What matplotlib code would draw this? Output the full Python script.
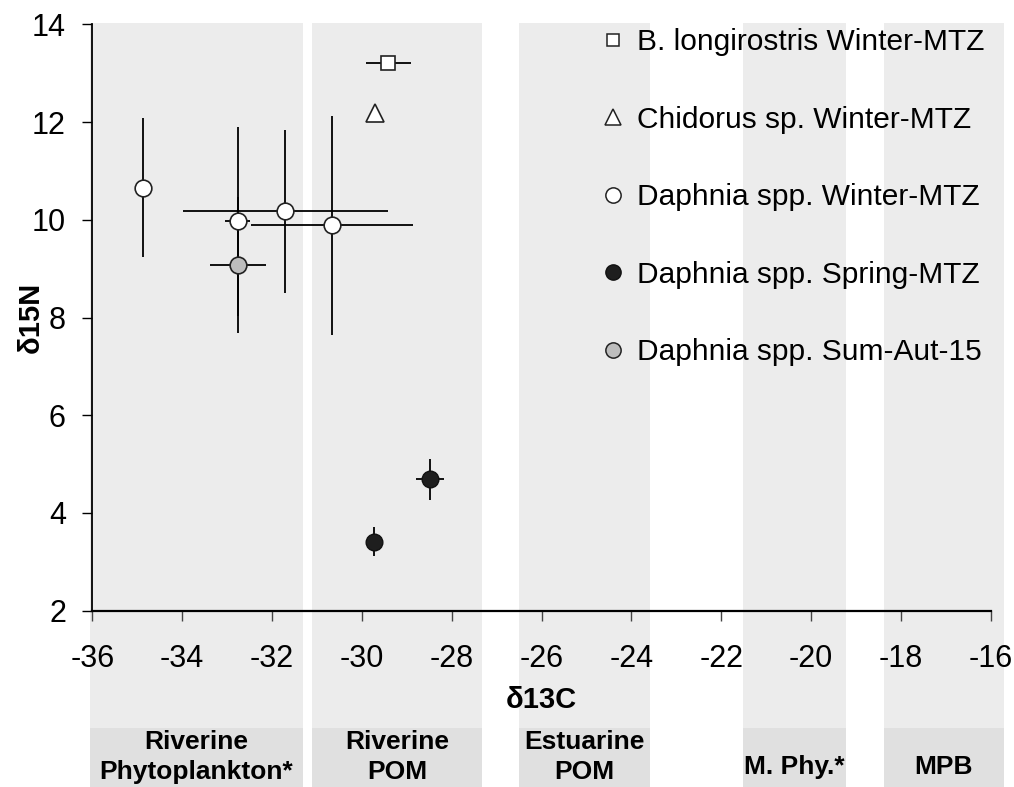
import matplotlib
matplotlib.use("Agg")
import matplotlib.pyplot as plt
from matplotlib.lines import Line2D
from matplotlib.patches import Rectangle
from matplotlib.transforms import blended_transform_factory

plt.rcParams['font.family'] = ['Liberation Sans', 'DejaVu Sans']

# ---- data ----
winter_x = [-34.88, -32.76, -31.70, -30.67]
winter_y = [10.66, 9.97, 10.17, 9.89]
winter_xerr = [0.0, 0.28, 2.29, 1.80]
winter_yerr = [1.43, 1.93, 1.67, 2.24]

sumaut_x = [-32.76]
sumaut_y = [9.07]
sumaut_xerr = [0.62]
sumaut_yerr = [1.39]

spring_x = [-29.72, -28.49]
spring_y = [3.41, 4.69]
spring_xerr = [0.10, 0.31]
spring_yerr = [0.30, 0.42]

bos_x = [-29.41]
bos_y = [13.21]
bos_xerr = [0.50]
bos_yerr = [0.0]

chid_x = [-29.71]
chid_y = [12.18]
chid_xerr = [0.0]
chid_yerr = [0.08]

series_labels = ["B. longirostris Winter-MTZ", "Chidorus sp. Winter-MTZ",
                 "Daphnia spp. Winter-MTZ", "Daphnia spp. Spring-MTZ",
                 "Daphnia spp. Sum-Aut-15"]

band_names = ["Riverine\nPhytoplankton*", "Riverine\nPOM", "Estuarine\nPOM", "M. Phy.*", "MPB"]
band_lo = [-36.05, -31.11, -26.50, -21.52, -18.39]
band_hi = [-31.32, -27.33, -23.59, -19.23, -15.72]

xticks = [-36, -34, -32, -30, -28, -26, -24, -22, -20, -18, -16]
yticks = [2, 4, 6, 8, 10, 12, 14]

# ---- figure ----
fig = plt.figure(figsize=(10.14, 7.87), dpi=100)
ax = fig.add_axes([0.0910, 0.2240, 0.8863, 0.7451])
ax.patch.set_visible(False)

ax.set_xlim(-36, -16)
ax.set_ylim(2, 14)

# bands spanning from top of plot to bottom of figure
trans = blended_transform_factory(ax.transData, fig.transFigure)
band_top = 1 - 23 / 787
box_top = 1 - 727.7 / 787
for lo, hi, name in zip(band_lo, band_hi, band_names):
    ax.add_patch(Rectangle((lo, 0), hi - lo, band_top, transform=trans,
                           facecolor='#ececec', edgecolor='none',
                           clip_on=False, zorder=0))
    ax.add_patch(Rectangle((lo, 0), hi - lo, box_top, transform=trans,
                           facecolor='#e0e0e0', edgecolor='none',
                           clip_on=False, zorder=0.1))
    ylab = 1 - 757 / 787 if "\n" in name else 1 - 767 / 787
    ax.text((lo + hi) / 2, ylab, name, transform=trans, ha='center', va='center',
            fontsize=19, fontweight='bold', linespacing=1.3, zorder=1)

ekw = dict(ecolor='black', elinewidth=1.3, capsize=0, linestyle='none', zorder=3)
ax.errorbar(winter_x, winter_y, xerr=winter_xerr, yerr=winter_yerr, fmt='o',
            ms=12, mfc='white', mec='#222222', mew=1.2, **ekw)
ax.errorbar(sumaut_x, sumaut_y, xerr=sumaut_xerr, yerr=sumaut_yerr, fmt='o',
            ms=12, mfc='#bdbdbd', mec='#222222', mew=1.2, **ekw)
ax.errorbar(spring_x, spring_y, xerr=spring_xerr, yerr=spring_yerr, fmt='o',
            ms=12, mfc='#1e1e1e', mec='#111111', mew=1.0, **ekw)
ax.errorbar(bos_x, bos_y, xerr=bos_xerr, yerr=bos_yerr, fmt='s',
            ms=10, mfc='white', mec='#222222', mew=1.2, **ekw)
ax.errorbar(chid_x, chid_y, xerr=chid_xerr, yerr=chid_yerr, fmt='^',
            ms=13, mfc='white', mec='#222222', mew=1.2, **ekw)

# axes styling
for s in ['top', 'right']:
    ax.spines[s].set_visible(False)
ax.spines['left'].set_linewidth(1.3)
ax.spines['bottom'].set_linewidth(1.6)
ax.set_xticks(xticks)
ax.set_yticks(yticks)
ax.set_xticklabels([str(t) for t in xticks])
ax.set_yticklabels([str(t) for t in yticks])
ax.tick_params(axis='y', direction='out', length=7, width=1, pad=12, labelsize=22)
ax.tick_params(axis='x', direction='out', length=7, width=1, pad=17, labelsize=22,
               color='#444444')

ax.set_xlabel("δ13C", fontsize=21, fontweight='bold')
ax.xaxis.set_label_coords(0.5, -0.128)
ax.xaxis.label.set_va('top')
ax.set_ylabel("δ15N", fontsize=21, fontweight='bold')
ax.yaxis.set_label_coords(-0.069, 0.5)
ax.yaxis.label.set_va('center')

handles = [
    Line2D([], [], marker='s', ls='none', ms=9, mfc='white', mec='#222222', mew=1.1),
    Line2D([], [], marker='^', ls='none', ms=11, mfc='white', mec='#222222', mew=1.1),
    Line2D([], [], marker='o', ls='none', ms=11, mfc='white', mec='#222222', mew=1.1),
    Line2D([], [], marker='o', ls='none', ms=11, mfc='#1e1e1e', mec='#111111', mew=1.0),
    Line2D([], [], marker='o', ls='none', ms=11, mfc='#bdbdbd', mec='#222222', mew=1.1),
]
ax.legend(handles, series_labels, loc='upper left',
          bbox_to_anchor=(601 / 1014, 1 - 28 / 787), bbox_transform=fig.transFigure,
          frameon=False, fontsize=21.5, handlelength=0.8, handletextpad=0.4,
          labelspacing=1.66, borderpad=0, borderaxespad=0)

fig.savefig("out.png", dpi=100)
